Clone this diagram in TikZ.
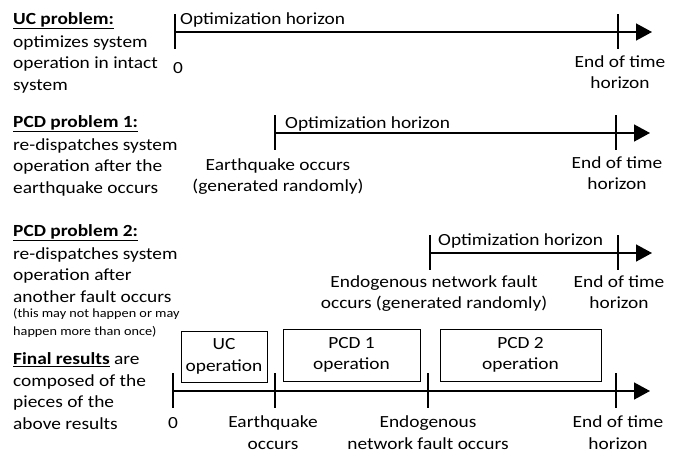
\documentclass[tikz,border=0pt]{standalone}
\usepackage{fontspec}
\setmainfont{Carlito}[FakeStretch=1.14]
\usepackage{xcolor}
\usetikzlibrary{positioning,calc,arrows.meta}
\newcommand{\probHead}[1]{\underline{\textbf{#1}}}
\tikzset{%
  timeArrow/.style={%
    -{Triangle[length=16pt,width=17pt]},
    line width=1.5pt
  },
  tickMark/.style={%
    line width=1.5pt
  },
  opBox/.style={%
    rectangle,
    draw,
    line width=1pt,
    inner sep=0pt,
    align=center
  },
  axisText/.style={%
    inner sep=0pt,
    align=center,
    anchor=base
  },
  probText/.style={%
    inner sep=0pt,
    align=left,
    anchor=base west
  }
}

\begin{document}
\begin{tikzpicture}[x=1pt,y=-1pt,font=\fontsize{17}{21.5}\selectfont]
  \useasboundingbox (0,0) rectangle (679,453);

  % left column (base = last line)
  \node[probText] (ucProb) at (13,90) {\probHead{UC problem:}\\[1.5pt]optimizes system\\operation in intact\\system};
  \node[probText] (pcdProbA) at (13,193) {\probHead{PCD problem 1:}\\[1.5pt]re-dispatches system\\operation after the\\earthquake occurs};
  \node[probText] (pcdProbB) at (13,302) {\probHead{PCD problem 2:}\\[1.5pt]re-dispatches system\\operation after\\another fault occurs};
  \node[probText, font=\fontsize{12.5}{18}\selectfont] (pcdNote) at (13,335) {(this may not happen or may\\happen more than once)};
  \node[probText] (finalRes) at (13,429) {\probHead{Final results} are\\composed of the\\pieces of the\\above results};

  % time lines
  \coordinate (s1) at (175,32);
  \coordinate (e1) at (618,32);
  \coordinate (tip1) at (652,32);
  \coordinate (s2) at (275,133);
  \coordinate (e2) at (616,133);
  \coordinate (tip2) at (650,133);
  \coordinate (s3) at (430,253);
  \coordinate (e3) at (618,253);
  \coordinate (tip3) at (652,253);
  \coordinate (z4) at (173,391);
  \coordinate (q4) at (275,391);
  \coordinate (f4) at (428,391);
  \coordinate (e4) at (616,391);
  \coordinate (tip4) at (650,391);

  \draw[timeArrow] (s1) -- (tip1);
  \draw[timeArrow] (s2) -- (tip2);
  \draw[timeArrow] (s3) -- (tip3);
  \draw[timeArrow] (z4) -- (tip4);
  \foreach \t in {s1,e1,s2,e2,s3,e3,z4,q4,f4,e4}
    \draw[tickMark] (\t) ++(0,-18) -- ++(0,35);

  % labels
  \node[probText] (optA) at (180,24) {Optimization horizon};
  \node[axisText] (zeroA) at (178,73) {0};
  \node[axisText] (endA) at (620,88.5) {End of time\\horizon};

  \node[probText] (optB) at (285,128) {Optimization horizon};
  \node[axisText] (quakeB) at (278,191.5) {Earthquake occurs\\(generated randomly)};
  \node[axisText] (endB) at (617,189.5) {End of time\\horizon};

  \node[probText] (optC) at (438,245) {Optimization horizon};
  \node[axisText] (faultC) at (434,308.5) {Endogenous network fault\\occurs (generated randomly)};
  \node[axisText] (endC) at (619,308.5) {End of time\\horizon};

  % final result pieces
  \node[opBox, minimum width=86pt, minimum height=51pt] (ucOp) at (224,356.5) {UC\\operation};
  \node[opBox, minimum width=137pt, minimum height=52pt] (pcdOpA) at (351.5,355) {PCD 1\\operation};
  \node[opBox, minimum width=161pt, minimum height=52pt] (pcdOpB) at (520.5,355) {PCD 2\\operation};

  \node[axisText] (zeroD) at (173,428) {0};
  \node[axisText] (quakeD) at (273,449) {Earthquake\\occurs};
  \node[axisText] (faultD) at (428,449) {Endogenous\\network fault occurs};
  \node[axisText] (endD) at (618,449) {End of time\\horizon};
\end{tikzpicture}
\end{document}
